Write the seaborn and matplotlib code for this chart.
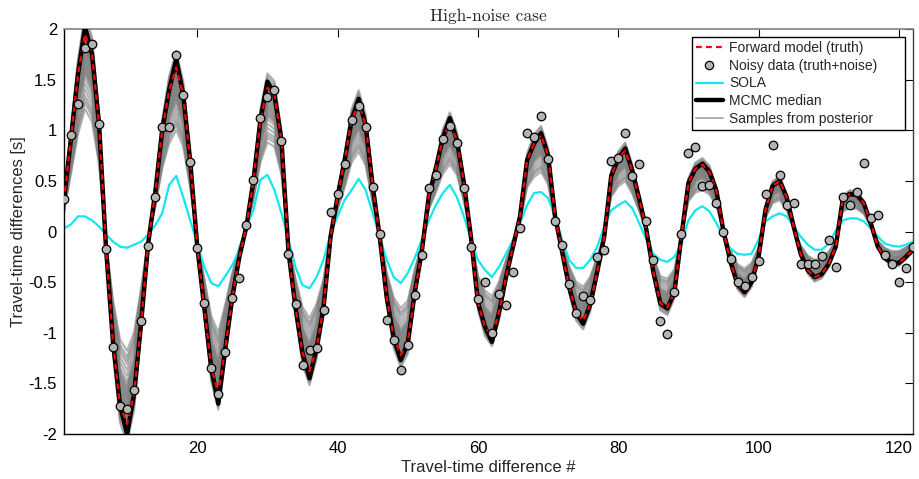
import numpy as np
import pandas as pd
import matplotlib
matplotlib.use("Agg")
import matplotlib.pyplot as plt
from matplotlib.lines import Line2D
import seaborn as sns

# ---------------- data ----------------
index = list(range(1, 123))

truth = [0.30, 0.92, 1.55, 1.95, 1.75, 1.06, -0.17, -1.10, -1.72, -1.90,
         -1.60, -0.90, -0.12, 0.38, 1.00, 1.40, 1.62, 1.35, 0.69, -0.15,
         -0.75, -1.35, -1.60, -1.15, -0.65, -0.25, 0.05, 0.50, 1.10, 1.42,
         1.35, 0.90, -0.20, -0.75, -1.20, -1.38, -1.15, -0.75, -0.05, 0.35,
         0.70, 1.10, 1.27, 1.05, 0.45, -0.05, -0.65, -1.05, -1.22, -1.10,
         -0.60, -0.20, 0.35, 0.62, 0.92, 1.07, 0.90, 0.48, -0.05, -0.70,
         -0.94, -1.03, -0.80, -0.45, -0.15, 0.15, 0.70, 0.87, 0.95, 0.75,
         0.15, -0.20, -0.55, -0.80, -0.88, -0.72, -0.40, -0.05, 0.55, 0.72,
         0.80, 0.60, 0.32, 0.02, -0.40, -0.71, -0.75, -0.60, -0.05, 0.48,
         0.62, 0.66, 0.59, 0.40, 0.00, -0.30, -0.52, -0.59, -0.50, -0.25,
         0.22, 0.45, 0.50, 0.34, 0.05, -0.22, -0.38, -0.45, -0.42, -0.32,
         -0.15, 0.32, 0.37, 0.36, 0.28, 0.08, -0.15, -0.26, -0.31, -0.31,
         -0.25, -0.18]

# MCMC median: equal to the truth except at the extrema listed here
median_idx = [4, 10, 17, 23, 30, 36, 43, 49, 56, 62, 69, 75, 81, 87, 92, 98]
median_val = [2.02, -2.00, 1.70, -1.70, 1.48, -1.45, 1.31, -1.27, 1.12, -1.09,
              0.97, -0.91, 0.82, -0.76, 0.67, -0.60]

sola = [0.03, 0.07, 0.15, 0.15, 0.11, 0.05, -0.03, -0.10, -0.15, -0.16,
        -0.13, -0.10, -0.03, 0.06, 0.18, 0.46, 0.55, 0.34, 0.11, -0.12,
        -0.35, -0.51, -0.54, -0.44, -0.33, -0.18, 0.05, 0.21, 0.51, 0.56,
        0.41, 0.18, -0.08, -0.35, -0.53, -0.56, -0.45, -0.28, -0.02, 0.15,
        0.31, 0.41, 0.52, 0.41, 0.18, -0.05, -0.28, -0.45, -0.51, -0.41,
        -0.26, -0.08, 0.11, 0.26, 0.38, 0.46, 0.34, 0.15, -0.08, -0.28,
        -0.38, -0.45, -0.35, -0.22, -0.08, 0.08, 0.26, 0.38, 0.39, 0.33,
        0.15, -0.08, -0.28, -0.36, -0.36, -0.28, -0.15, 0.05, 0.21, 0.26,
        0.30, 0.23, 0.08, -0.08, -0.22, -0.28, -0.30, -0.25, -0.12, 0.11,
        0.21, 0.25, 0.20, 0.08, -0.05, -0.17, -0.22, -0.23, -0.22, -0.08,
        0.10, 0.15, 0.18, 0.15, 0.05, -0.05, -0.13, -0.18, -0.18, -0.12,
        0.01, 0.11, 0.13, 0.13, 0.10, 0.03, -0.05, -0.12, -0.14, -0.15,
        -0.13, -0.10]

noisy = [0.32, 0.95, 1.26, 1.81, 1.85, 1.06, -0.17, -1.14, -1.72, -1.75,
         -1.57, -0.88, -0.14, 0.34, 1.03, 1.03, 1.74, 1.35, 0.69, -0.16,
         -0.71, -1.35, -1.60, -1.19, -0.66, -0.46, 0.06, 0.51, 1.12, 1.33,
         1.40, 0.89, -0.22, -0.72, -1.32, -1.17, -1.15, -0.78, 0.19, 0.37,
         0.67, 1.10, 1.24, 1.03, 0.44, -0.02, -0.87, -1.07, -1.37, -1.12,
         -0.63, -0.23, 0.43, 0.56, 0.91, 1.04, 0.87, 0.43, -0.15, -0.67,
         -0.50, -1.00, -0.62, -0.73, -0.40, 0.03, 0.97, 0.93, 1.14, 0.72,
         0.10, -0.13, -0.52, -0.80, -0.64, -0.68, -0.25, -0.18, 0.70, 0.73,
         0.97, 0.55, 0.67, 0.10, -0.28, -0.88, -1.01, -0.60, -0.02, 0.78,
         0.83, 0.45, 0.46, 0.28, 0.00, -0.27, -0.50, -0.54, -0.45, -0.29,
         0.37, 0.85, 0.56, 0.26, 0.28, -0.32, -0.32, -0.32, -0.24, -0.08,
         -0.35, 0.34, 0.26, 0.39, 0.68, 0.13, 0.16, -0.23, -0.32, -0.50,
         -0.36, -0.15]

# amplitude of each posterior sample relative to the truth
sample_scale = [0.62, 0.65, 0.67, 0.69, 0.72, 0.75, 0.78, 0.80, 0.81, 0.82,
                0.83, 0.84, 0.85, 0.86, 0.87, 0.88, 0.89, 0.90, 0.91, 0.92,
                0.93, 0.94, 0.945, 0.95, 0.955, 0.96, 0.965, 0.97, 0.975,
                0.98, 0.985, 0.99, 0.995, 1.00, 1.005, 1.01, 1.015, 1.02,
                1.03, 1.04, 1.05, 1.06, 1.08, 1.10]

legend_labels = ["Forward model (truth)", "Noisy data (truth+noise)", "SOLA",
                 "MCMC median", "Samples from posterior"]

# ---------------- style ----------------
sns.set_theme(style="white")
plt.rcParams["font.family"] = ["Liberation Sans", "DejaVu Sans"]
plt.rcParams["axes.unicode_minus"] = False

median = list(truth)
for i, v in zip(median_idx, median_val):
    median[i - 1] = v

rows = []
for k, s in enumerate(sample_scale):
    for i, t in zip(index, truth):
        rows.append((i, t * s, k))
samples_df = pd.DataFrame(rows, columns=["i", "v", "k"])

fig = plt.figure(figsize=(9.19, 4.79), dpi=100)
ax = fig.add_axes([0.0696, 0.0939, 0.9238, 0.8455])

sample_col = "#808080"
sola_col = "#14e6ee"

sns.lineplot(data=samples_df, x="i", y="v", units="k", estimator=None,
             color=sample_col, lw=1.5, alpha=0.6, ax=ax, legend=False,
             zorder=1)
sns.lineplot(x=index, y=sola, color=sola_col, lw=1.6, ax=ax, zorder=2)
sns.lineplot(x=index, y=median, color="black", lw=3.2, ax=ax, zorder=3)
sns.lineplot(x=index, y=truth, color="red", lw=1.6, ax=ax, zorder=4,
             linestyle=(0, (2.6, 1.9)))
sns.scatterplot(x=index, y=noisy, s=38, color="#b4b4b4", edgecolor="black",
                linewidth=0.9, ax=ax, zorder=5)

ax.set_xlim(1, 122)
ax.set_ylim(-2, 2)
ax.set_xticks([20, 40, 60, 80, 100, 120])
yt = [-2, -1.5, -1, -0.5, 0, 0.5, 1, 1.5, 2]
ax.set_yticks(yt)
ax.set_yticklabels(["-2", "-1.5", "-1", "-0.5", "0", "0.5", "1", "1.5", "2"])
ax.tick_params(direction="in", top=True, right=True, length=6, width=0.8,
               labelsize=12, colors="black", pad=5)

for side in ["left", "bottom"]:
    ax.spines[side].set_color("black")
    ax.spines[side].set_linewidth(1.0)
ax.spines["top"].set_color("#808080")
ax.spines["top"].set_linewidth(1.2)
ax.spines["right"].set_color("#404040")
ax.spines["right"].set_linewidth(1.0)

ax.set_xlabel("Travel-time difference #", fontsize=12, labelpad=3)
ax.set_ylabel("Travel-time differences [s]", fontsize=12, labelpad=2)
ax.set_title("High-noise case", fontsize=12.5,
             family=["cmr10", "DejaVu Serif"], pad=6)

handles = [
    Line2D([], [], color="red", lw=1.6, linestyle=(0, (2.6, 1.9))),
    Line2D([], [], color="none", marker="o", markersize=6,
           markerfacecolor="#b4b4b4", markeredgecolor="black",
           markeredgewidth=0.9),
    Line2D([], [], color=sola_col, lw=1.6),
    Line2D([], [], color="black", lw=3.2),
    Line2D([], [], color="#a8a8a8", lw=1.3),
]
leg = ax.legend(handles, legend_labels, loc="upper left",
                bbox_to_anchor=(0.7397, 0.0, 0.2509, 0.9802), mode="expand",
                borderaxespad=0, fontsize=10,
                frameon=True, fancybox=False, framealpha=1, edgecolor="black",
                handlelength=1.9, labelspacing=0.26, borderpad=0.3,
                handletextpad=0.5)
leg.get_frame().set_linewidth(1.0)

fig.savefig("out.png", dpi=100)
